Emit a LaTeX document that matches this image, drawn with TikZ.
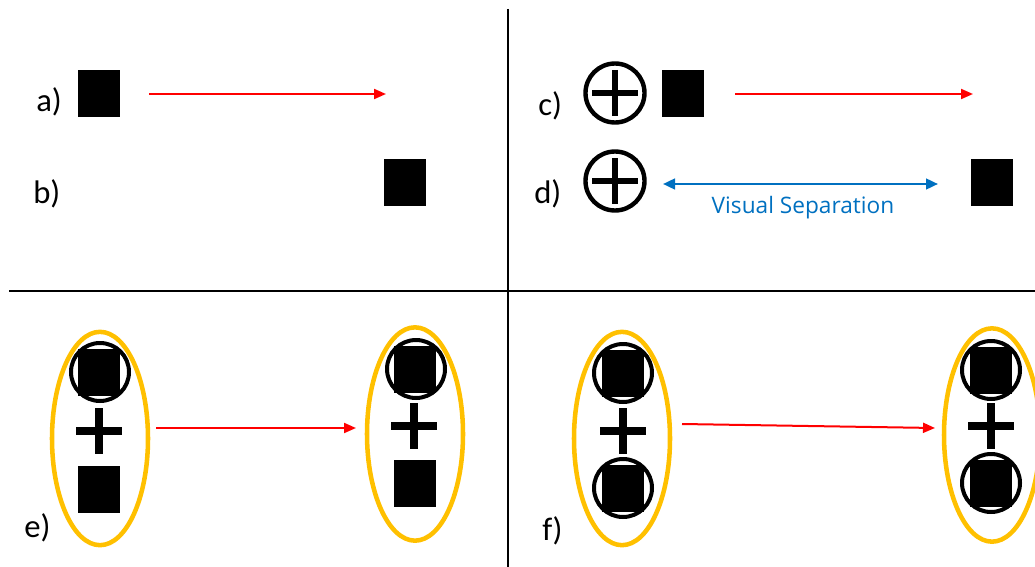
\documentclass[tikz,border=0pt]{standalone}
\usepackage{fontspec}
\setmainfont{Carlito}
\newfontfamily\uifont{Open Sans}
\usetikzlibrary{shapes.geometric,arrows.meta}
\definecolor{gold}{HTML}{FFC000}
\definecolor{arrowred}{HTML}{FF0000}
\definecolor{sepblue}{HTML}{0070C0}

\begin{document}
\begin{tikzpicture}[x=0.75pt,y=-0.75pt,
  blk/.style={fill=black,inner sep=0pt,minimum width=31.5pt,minimum height=35.25pt},
  ring/.style={circle,draw=black,line width=3pt,inner sep=0pt,minimum size=43.5pt},
  oplus/.style={circle,draw=black,line width=3.3pt,inner sep=0pt,minimum size=44.25pt,
    path picture={\draw[line width=4.5pt]
      ([xshift=-17.25pt]path picture bounding box.center) -- ++(34.5pt,0pt)
      ([yshift=17.25pt]path picture bounding box.center) -- ++(0pt,-34.5pt);}},
  plusmark/.style={inner sep=0pt,minimum size=34.5pt,
    path picture={\draw[line width=5.4pt]
      ([xshift=-17.25pt]path picture bounding box.center) -- ++(34.5pt,0pt)
      ([yshift=17.25pt]path picture bounding box.center) -- ++(0pt,-34.5pt);}},
  group/.style={ellipse,draw=gold,line width=3.4pt,inner sep=0pt,minimum width=72pt,minimum height=160pt},
  partlabel/.style={anchor=base west,inner sep=0pt,font=\fontsize{24.5pt}{28pt}\selectfont},
  flow/.style={draw=arrowred,line width=1.5pt,-{Triangle[length=9pt,width=7.5pt]}},
  sepline/.style={draw=sepblue,line width=1.8pt,{Triangle[length=9pt,width=8pt]}-{Triangle[length=9pt,width=8pt]}},
  septext/.style={inner sep=0pt,text=sepblue,font=\uifont\fontsize{17pt}{19pt}\selectfont},
  divider/.style={draw=black,line width=1.5pt}
]
\useasboundingbox (0,0) rectangle (1035,567);

% quadrant dividers
\draw[divider] (507.5,9) -- (507.5,567);
\draw[divider] (9,290.5) -- (1035,290.5);

% a) and b)
\node[partlabel] (la) at (36,112) {a)};
\node[partlabel] (lb) at (33,203) {b)};
\node[blk] (sqa) at (99,93.5) {};
\node[blk] (sqb) at (405,182.5) {};
\coordinate (a-from) at (149,94);
\coordinate (a-to) at (386,94);
\draw[flow] (a-from) -- (a-to);

% c) and d)
\node[partlabel] (lc) at (538,115) {c)};
\node[partlabel] (ld) at (534,203) {d)};
\node[oplus] (opc) at (615,93) {};
\node[blk] (sqc) at (683,93.5) {};
\node[oplus] (opd) at (615,181) {};
\node[blk] (sqd) at (991.5,182.5) {};
\coordinate (c-from) at (735,94);
\coordinate (c-to) at (973,94);
\draw[flow] (c-from) -- (c-to);
\coordinate (d-from) at (663,184);
\coordinate (d-to) at (938,184);
\draw[sepline] (d-from) -- (d-to);
\node[septext] (sepl) at (803,208) {Visual Separation};

% e)
\node[partlabel] (le) at (24,537) {e)};
\node[group] (ge1) at (100,438.5) {};
\node[ring] (re1) at (100,372) {};
\node[blk] (se1) at (99,372) {};
\node[plusmark] (pe1) at (99,431) {};
\node[blk] (be1) at (99,489) {};

\node[group] (ge2) at (415,434) {};
\node[ring] (re2) at (416,369) {};
\node[blk] (se2) at (415,369) {};
\node[plusmark] (pe2) at (414,426) {};
\node[blk] (be2) at (415,483.5) {};

\coordinate (e-from) at (156,428);
\coordinate (e-to) at (356,428);
\draw[flow] (e-from) -- (e-to);

% f)
\node[partlabel] (lf) at (542,540) {f)};
\node[group] (gf1) at (622,438.5) {};
\node[ring] (rf1a) at (623,373) {};
\node[blk] (sf1a) at (623,373) {};
\node[plusmark] (pf1) at (623,431) {};
\node[ring] (rf1b) at (623,488) {};
\node[blk] (sf1b) at (623,488) {};

\node[group] (gf2) at (992,435) {};
\node[ring] (rf2a) at (991,370) {};
\node[blk] (sf2a) at (991,370) {};
\node[plusmark] (pf2) at (991,426) {};
\node[ring] (rf2b) at (991,483) {};
\node[blk] (sf2b) at (991,483) {};

\coordinate (f-from) at (682,424);
\coordinate (f-to) at (935,428);
\draw[flow] (f-from) -- (f-to);
\end{tikzpicture}
\end{document}
